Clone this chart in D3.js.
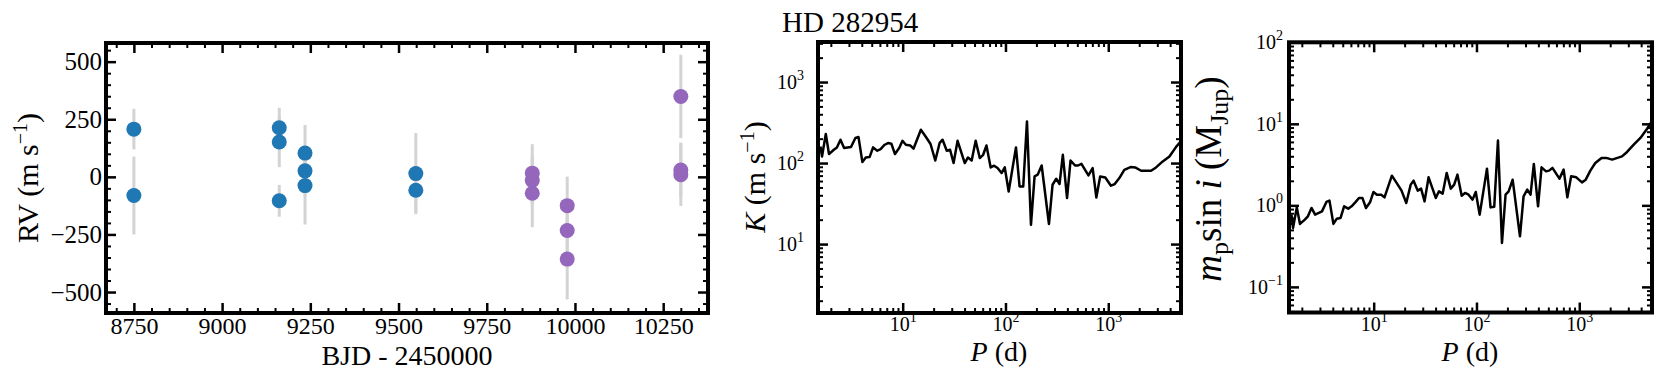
<!DOCTYPE html>
<html>
<head>
<meta charset="utf-8">
<script src="https://cdn.jsdelivr.net/npm/d3@7"></script>
<style>
  body { margin: 0; background: #fff; }
  svg { display: block; }
  text { font-family: "Liberation Serif", "Times New Roman", serif; fill: #000; }
</style>
</head>
<body>
<svg id="fig" width="1661" height="386"></svg>
<script>
// RV points (BJD - 2450000, m/s), two instruments
const bjd   = [8750, 8750, 9162, 9162, 9162, 9235, 9235, 9235, 9549, 9549,
               9879, 9879, 9879, 9978, 9978, 9978, 10300, 10300, 10300];
const rv    = [207, -81, 213, 151, -104, 103, 26, -38, 14, -58,
               16, -16, -71, -125, -233, -357, 349, 30, 9];
const rvErr = [88, 169, 87, 109, 69, 122, 110, 169, 176, 97,
               126, 110, 148, 126, 120, 175, 181, 119, 135];
const inst  = ["A", "A", "A", "A", "A", "A", "A", "A", "A", "A",
               "B", "B", "B", "B", "B", "B", "B", "B", "B"];

// detection limit curves: period (d), K (m/s), m sin i (M_Jup)
const period = [1.585, 1.641, 1.786, 1.919, 2.138, 2.291, 2.483, 2.692, 3.141, 3.467,
                3.715, 4.055, 4.375, 4.764, 5.152, 5.662, 6.095, 6.683, 7.194, 7.762,
                8.414, 9.247, 9.954, 10.74, 11.83, 12.74, 15.03, 16.71, 18.66, 20.75,
                22.91, 24.43, 26.85, 28.91, 31.26, 34.2, 40.18, 43.15, 46.88, 51.29,
                56.23, 60.67, 65.31, 71.78, 77.45, 83.75, 91.62, 98.4, 107.4, 126.5,
                137.1, 148.9, 161.8, 177.0, 191.9, 205.6, 224.9, 264.9, 287.1, 311.9,
                335.7, 361.4, 397.2, 429.5, 475.3, 508.2, 548.3, 641.2, 704.7, 765.6,
                833.7, 935.4, 1062, 1156, 1282, 1432, 1648, 1828, 2089, 2606,
                2917, 3388, 3936, 4571, 5012];
const kLim = [160.3, 120.5, 228.0, 129.1, 145.9, 156.0, 194.1, 153.1, 157.8, 203.7,
              209.4, 102.8, 117.2, 118.6, 156.0, 141.9, 148.9, 168.3, 176.6, 173.0,
              129.1, 153.1, 188.4, 168.3, 164.8, 150.3, 257.6, 212.8, 171.8, 107.6,
              177.8, 194.1, 141.9, 145.9, 100.0, 188.4, 100.0, 117.2, 107.6, 188.4,
              115.3, 126.5, 164.8, 88.3, 92.7, 86.7, 75.3, 88.3, 44.6, 156.0,
              51.4, 51.4, 326.6, 17.3, 68.4, 71.8, 93.3, 17.7, 54.0, 64.0,
              55.1, 126.5, 37.0, 107.6, 93.3, 93.3, 97.9, 70.3, 86.7, 37.6,
              68.4, 66.4, 52.5, 55.1, 65.3, 82.6, 89.3, 88.3, 80.4, 80.4,
              88.3, 104.7, 120.5, 158.5, 182.0];
const mLim = [0.769, 0.528, 0.944, 0.592, 0.668, 0.733, 0.929, 0.769, 0.843, 1.102,
              1.143, 0.592, 0.687, 0.700, 0.973, 0.912, 0.973, 1.102, 1.233, 1.233,
              0.929, 1.102, 1.459, 1.352, 1.352, 1.253, 2.312, 1.884, 1.514, 1.069,
              1.795, 2.009, 1.514, 1.603, 1.119, 2.208, 1.233, 1.486, 1.393, 2.500,
              1.603, 1.795, 2.382, 1.315, 1.419, 1.352, 1.175, 1.459, 0.769, 2.818,
              0.944, 0.964, 6.223, 0.346, 1.352, 1.486, 2.065, 0.417, 1.288, 1.560,
              1.352, 3.221, 0.973, 2.924, 2.612, 2.667, 2.877, 2.128, 2.742, 1.253,
              2.270, 2.208, 1.914, 2.065, 2.667, 3.311, 3.819, 3.819, 3.639, 3.990,
              4.519, 5.559, 6.714, 8.710, 10.47];

// tick values
const bjdTicks = [8750, 9000, 9250, 9500, 9750, 10000, 10250];
const rvTicks = [-500, -250, 0, 250, 500];
const pTicks = [10, 100, 1000];
const kTicks = [10, 100, 1000];
const mTicks = [0.1, 1, 10, 100];

const colors = { A: "#1f77b4", B: "#9467bd" };

const svg = d3.select("#fig");
svg.append("rect").attr("width", 1661).attr("height", 386).attr("fill", "#fff");

// text made of pieces (italic, super/subscript)
function rich(text, parts) {
  let cur = 0;
  parts.forEach(p => {
    const s = p.s || 0;
    const ts = text.append("tspan").text(p.t);
    if (s !== cur) ts.attr("dy", s - cur);
    cur = s;
    if (p.i) ts.attr("font-style", "italic");
    if (p.z) ts.attr("font-size", p.z);
  });
}

function logMinor(lo, hi) {
  const out = [];
  for (let e = -3; e <= 4; e++)
    for (let m = 2; m <= 9; m++) {
      const v = m * Math.pow(10, e);
      if (v > lo && v < hi) out.push(v);
    }
  return out;
}

const linLab = d => [{ t: d < 0 ? "\u2212" + (-d) : String(d) }];
const logLab = d => {
  const e = Math.round(Math.log10(d));
  return [{ t: "10" }, { t: e < 0 ? "\u2212" + (-e) : String(e), s: -9, z: 14 }];
};

function axes(g, x, y, o) {
  const [left, right] = x.range();
  const [bottom, top] = y.range();
  const specs = [
    { axis: d3.axisBottom(x), tr: `translate(0,${bottom})`, major: o.xMajor, minor: o.xMinor, lab: o.xLab, pad: o.xPad, size: o.xSize },
    { axis: d3.axisTop(x), tr: `translate(0,${top})`, major: o.xMajor, minor: o.xMinor },
    { axis: d3.axisLeft(y), tr: `translate(${left},0)`, major: o.yMajor, minor: o.yMinor, lab: o.yLab, pad: o.yPad, size: o.ySize },
    { axis: d3.axisRight(y), tr: `translate(${right},0)`, major: o.yMajor, minor: o.yMinor }
  ];
  specs.forEach(s => {
    const gm = g.append("g").attr("transform", s.tr)
      .call(s.axis.tickValues(s.minor).tickSize(-5).tickFormat(() => ""));
    gm.select(".domain").remove();
    gm.selectAll(".tick line").attr("stroke-width", 2);

    const gM = g.append("g").attr("transform", s.tr)
      .call(s.axis.tickValues(s.major).tickSize(-10).tickPadding(s.pad || 3).tickFormat(() => ""));
    gM.select(".domain").remove();
    gM.selectAll(".tick line").attr("stroke-width", 2.5);
    if (s.lab) {
      gM.attr("font-size", s.size);
      gM.selectAll(".tick text").each(function (d) {
        const t = d3.select(this).text(null);
        rich(t, s.lab(d));
      });
    }
  });
  g.append("rect")
    .attr("x", left).attr("y", top)
    .attr("width", right - left).attr("height", bottom - top)
    .attr("fill", "none").attr("stroke", "#000").attr("stroke-width", 4);
}

function d3range(a, b, s) { return d3.range(a, b + 1e-9, s); }

// ---------- RV panel ----------
const x1 = d3.scaleLinear().domain([8671, 10377]).range([106, 708]);
const y1 = d3.scaleLinear().domain([-591, 581]).range([313, 43]);
const g1 = svg.append("g");

g1.selectAll(".err").data(bjd).enter().append("line")
  .attr("x1", d => x1(d)).attr("x2", d => x1(d))
  .attr("y1", (d, i) => y1(rv[i] - rvErr[i])).attr("y2", (d, i) => y1(rv[i] + rvErr[i]))
  .attr("stroke", "#d3d3d3").attr("stroke-width", 3);

g1.selectAll(".pt").data(bjd).enter().append("circle")
  .attr("cx", d => x1(d)).attr("cy", (d, i) => y1(rv[i]))
  .attr("r", 7.5).attr("fill", (d, i) => colors[inst[i]]);

axes(g1, x1, y1, {
  xMajor: bjdTicks, xMinor: d3range(8700, 10350, 50).filter(v => v % 250 !== 0),
  yMajor: rvTicks, yMinor: d3range(-550, 550, 50).filter(v => v % 250 !== 0),
  xLab: linLab, yLab: linLab, xPad: 4, yPad: 4, xSize: 24, ySize: 25
});

g1.append("text").attr("x", 407).attr("y", 365).attr("text-anchor", "middle")
  .attr("font-size", 28).text("BJD - 2450000");
rich(g1.append("text").attr("transform", "translate(38,178) rotate(-90)")
  .attr("text-anchor", "middle").attr("font-size", 30),
  [{ t: "RV (m s" }, { t: "\u22121", s: -11, z: 20 }, { t: ")" }]);

// ---------- K panel ----------
const x2 = d3.scaleLog().domain([1.5, 5100]).range([818, 1181]);
const y2 = d3.scaleLog().domain([1.41, 3120]).range([313, 42]);
const g2 = svg.append("g");

g2.append("path").datum(period)
  .attr("d", d3.line().x(d => x2(d)).y((d, i) => y2(kLim[i])))
  .attr("fill", "none").attr("stroke", "#000").attr("stroke-width", 2.5)
  .attr("stroke-linejoin", "round");

axes(g2, x2, y2, {
  xMajor: pTicks, xMinor: logMinor(1.5, 5100),
  yMajor: kTicks, yMinor: logMinor(1.41, 3120),
  xLab: logLab, yLab: logLab, xPad: 4, yPad: 14, xSize: 20, ySize: 20
});

rich(g2.append("text").attr("x", 999).attr("y", 361).attr("text-anchor", "middle")
  .attr("font-size", 28), [{ t: "P", i: true }, { t: " (d)" }]);
rich(g2.append("text").attr("transform", "translate(765,177) rotate(-90)")
  .attr("text-anchor", "middle").attr("font-size", 30),
  [{ t: "K", i: true }, { t: " (m s" }, { t: "\u22121", s: -11, z: 20 }, { t: ")" }]);

svg.append("text").attr("x", 782).attr("y", 32).attr("font-size", 29).text("HD 282954");

// ---------- m sin i panel ----------
const x3 = d3.scaleLog().domain([1.5, 5100]).range([1289, 1652]);
const y3 = d3.scaleLog().domain([0.0485, 100]).range([312.5, 42.3]);
const g3 = svg.append("g");

g3.append("path").datum(period)
  .attr("d", d3.line().x(d => x3(d)).y((d, i) => y3(mLim[i])))
  .attr("fill", "none").attr("stroke", "#000").attr("stroke-width", 2.5)
  .attr("stroke-linejoin", "round");

axes(g3, x3, y3, {
  xMajor: pTicks, xMinor: logMinor(1.5, 5100),
  yMajor: mTicks, yMinor: logMinor(0.0485, 100),
  xLab: logLab, yLab: logLab, xPad: 4, yPad: 6, xSize: 20, ySize: 20
});

rich(g3.append("text").attr("x", 1470).attr("y", 361).attr("text-anchor", "middle")
  .attr("font-size", 28), [{ t: "P", i: true }, { t: " (d)" }]);
rich(g3.append("text").attr("transform", "translate(1221,179) rotate(-90)")
  .attr("text-anchor", "middle").attr("font-size", 37),
  [{ t: "m", i: true }, { t: "p", s: 7, z: 26 }, { t: "sin " }, { t: "i", i: true },
   { t: " (M" }, { t: "Jup", s: 7, z: 26 }, { t: ")" }]);
</script>
</body>
</html>
